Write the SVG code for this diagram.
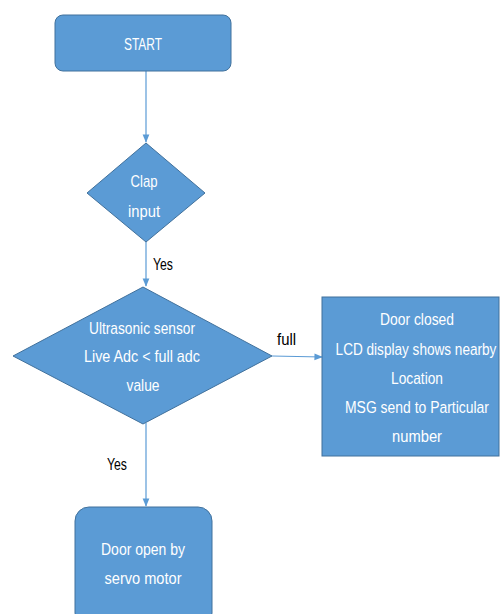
<svg xmlns="http://www.w3.org/2000/svg" width="500" height="614" viewBox="0 0 500 614">
<defs>
<style>
.shape{fill:#5B9BD5;stroke:#41719C;stroke-width:1}
.t{font-family:"Liberation Sans",Arial,sans-serif;font-size:17px;fill:#ffffff;text-anchor:middle}
.lbl{font-family:"Liberation Sans",Arial,sans-serif;font-size:17px;fill:#000000}
.c{stroke:#5B9BD5;stroke-width:1.2;fill:none;marker-end:url(#ah)}
</style>
<marker id="ah" viewBox="0 0 10 10" refX="9" refY="5" markerWidth="7" markerHeight="7" orient="auto">
<path d="M0,1 L10,5 L0,9 z" fill="#5B9BD5"/>
</marker>
</defs>
<rect width="500" height="614" fill="#ffffff"/>
<g id="connectors">
<line class="c" x1="146" y1="71" x2="146" y2="142"/>
<line class="c" x1="146" y1="242" x2="146" y2="286"/>
<line class="c" x1="272" y1="356" x2="322" y2="357"/>
<line class="c" x1="146" y1="423" x2="146" y2="506"/>
<text class="lbl" x="153" y="270" textLength="20" lengthAdjust="spacingAndGlyphs">Yes</text>
<text class="lbl" x="277" y="345" textLength="19" lengthAdjust="spacingAndGlyphs">full</text>
<text class="lbl" x="107" y="470" textLength="20" lengthAdjust="spacingAndGlyphs">Yes</text>
</g>
<g id="start">
<rect class="shape" x="55" y="15" width="176" height="56" rx="8"/>
<text class="t" x="143" y="50" textLength="38" lengthAdjust="spacingAndGlyphs">START</text>
</g>
<g id="clap">
<polygon class="shape" points="146,143 205,193 146,242 87,193"/>
<text class="t" x="144" y="187" textLength="27" lengthAdjust="spacingAndGlyphs">Clap</text>
<text class="t" x="144" y="217" textLength="32" lengthAdjust="spacingAndGlyphs">input</text>
</g>
<g id="ultrasonic">
<polygon class="shape" points="143,287 272,356 143,424 13,356"/>
<text class="t" x="142" y="334" textLength="106" lengthAdjust="spacingAndGlyphs">Ultrasonic sensor</text>
<text class="t" x="142" y="362" textLength="116" lengthAdjust="spacingAndGlyphs">Live Adc &lt; full adc</text>
<text class="t" x="143" y="391" textLength="33" lengthAdjust="spacingAndGlyphs">value</text>
</g>
<g id="door-closed">
<rect class="shape" x="322" y="297" width="177" height="159"/>
<text class="t" x="417" y="325" textLength="74" lengthAdjust="spacingAndGlyphs">Door closed</text>
<text class="t" transform="translate(416,355) scale(0.8,1)" x="0" y="0">LCD display shows nearby</text>
<text class="t" x="417" y="384" textLength="52" lengthAdjust="spacingAndGlyphs">Location</text>
<text class="t" transform="translate(417,413) scale(0.82,1)" x="0" y="0">MSG send to Particular</text>
<text class="t" x="417" y="442" textLength="50" lengthAdjust="spacingAndGlyphs">number</text>
</g>
<g id="door-open">
<rect class="shape" x="75" y="507" width="137" height="120" rx="14"/>
<text class="t" x="143" y="555" textLength="84" lengthAdjust="spacingAndGlyphs">Door open by</text>
<text class="t" x="143" y="584" textLength="77" lengthAdjust="spacingAndGlyphs">servo motor</text>
</g>
</svg>
